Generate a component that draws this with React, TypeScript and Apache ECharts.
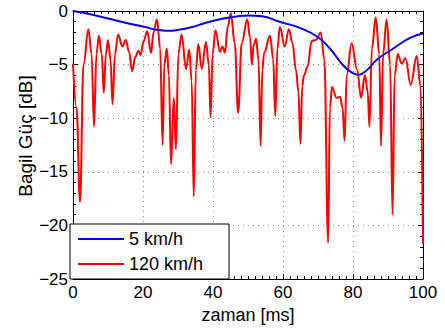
import React, { useEffect, useRef } from "react";
import * as echarts from "echarts";

const xTicks = [0, 20, 40, 60, 80, 100];
const yTicks = [-25, -20, -15, -10, -5, 0];

const blueTime = [0, 5, 10, 15, 20, 25, 28, 31, 34, 38, 43, 47, 50, 54, 59, 65, 70, 73.4, 77, 79.5, 81.5, 84, 86.8, 91.5, 96.3, 100];
const blueGain = [0, -0.3, -0.7, -1.1, -1.45, -1.8, -1.85, -1.7, -1.5, -1.1, -0.7, -0.5, -0.43, -0.5, -1.0, -1.6, -2.45, -3.5, -5.0, -5.7, -5.95, -5.5, -4.55, -3.5, -2.5, -2.1];

const redTime = [
  0, 1.0, 2.0, 3.0, 4.4, 5.3, 6.0, 6.7, 7.4, 8.2, 8.8, 9.4, 10.0, 10.7, 11.3, 12.0, 12.9, 14.1, 15.1, 16.0,
  16.9, 17.8, 18.7, 19.3, 20.2, 21.2, 22.3, 23.0, 24.0, 24.9, 25.6, 26.1, 26.8, 27.4, 28.0, 28.8, 29.4, 30.1, 31.0, 32.3,
  33.2, 33.9, 34.5, 35.1, 35.8, 36.8, 38.0, 38.8, 39.3, 39.9, 40.7, 42.0, 42.7, 43.4, 44.2, 45.1, 46.2, 47.2, 48.2, 49.8,
  50.6, 51.1, 51.6, 52.3, 53.0, 53.6, 54.1, 54.6, 56.3, 57.2, 57.8, 58.4, 59.1, 60.5, 61.7, 62.7, 63.7, 64.4, 65.0, 65.5,
  66.0, 67.0, 68.2, 69.4, 70.8, 71.8, 72.9, 73.4, 74.0, 75.3, 76.3, 77.0, 77.6, 78.2, 79.6, 81.2, 82.3, 83.4, 84.2, 84.7,
  85.4, 86.5, 87.5, 88.0, 88.6, 89.6, 90.6, 91.3, 91.9, 92.8, 93.9, 95.0, 96.5, 98.2, 99.3, 100,
];
const redGain = [
  -4.9, -9, -17.8, -5, -1.7, -4, -10.8, -4, -2.3, -4, -7.6, -4, -2.7, -4.5, -8.7, -4, -2.2, -3.3, -2.7, -3.8,
  -5.6, -4.3, -3.7, -4.1, -2.8, -1.9, -3.9, -2, -0.8, -3.5, -12.5, -5, -3.5, -6, -14.3, -8.1, -12.9, -4, -2.2, -5.4,
  -3.6, -6.5, -17.3, -5.5, -3.1, -5.4, -2.9, -5, -9.9, -4, -1.8, -3.8, -3.3, -3.9, -1.5, -0.2, -3, -9.5, -3, -0.8,
  -2.5, -5.0, -3.2, -2.6, -4.5, -12.6, -5.5, -3.9, -2.3, -4.5, -9.8, -3.5, -1.5, -3.3, -1.7, -3, -5.5, -7.5, -12.4, -7,
  -6.0, -5.2, -2.8, -2.7, -2.0, -4.5, -21.6, -9, -7.1, -8.1, -8.0, -9, -12.1, -6, -3.0, -5.5, -8.1, -6.0, -7.5, -10.8,
  -3.5, -0.6, -4, -12.6, -4, -0.8, -5, -19.0, -6, -4.0, -4.9, -4.4, -6.9, -4.2, -7, -21.7,
];

const FONT = "'Liberation Sans', Arial, sans-serif";

export default function App() {
  const ref = useRef<HTMLDivElement>(null);
  useEffect(() => {
    if (!ref.current) return;
    const chart = echarts.init(ref.current, undefined, { renderer: "svg" });
    const minus = (v: number) => String(v).replace("-", "\u2212");
    const gridLine = { show: true, lineStyle: { color: "#8c8c8c", type: [1, 4] as any, width: 1 } };
    const baseX = {
      type: "value" as const,
      min: xTicks[0],
      max: xTicks[xTicks.length - 1],
      interval: 20,
      axisLine: { show: true, onZero: false, lineStyle: { color: "#000", width: 1 } },
      axisTick: { show: true, inside: true, length: 5, lineStyle: { color: "#000" } },
      minorTick: { show: true, splitNumber: 10, length: 3, lineStyle: { color: "#000" } },
    };
    const baseY = {
      type: "value" as const,
      min: yTicks[0],
      max: yTicks[yTicks.length - 1],
      interval: 5,
      axisLine: { show: true, onZero: false, lineStyle: { color: "#000", width: 1 } },
      axisTick: { show: true, inside: true, length: 5, lineStyle: { color: "#000" } },
      minorTick: { show: true, splitNumber: 5, length: 3, lineStyle: { color: "#000" } },
    };
    chart.setOption({
      animation: false,
      backgroundColor: "#fff",
      textStyle: { fontFamily: FONT },
      grid: { left: 73, right: 22, top: 11, bottom: 49, containLabel: false },
      xAxis: [
        {
          ...baseX,
          position: "bottom",
          splitLine: gridLine,
          axisLabel: { color: "#000", fontSize: 17, margin: 5, fontFamily: FONT },
          name: "zaman [ms]",
          nameLocation: "middle",
          nameGap: 27,
          nameTextStyle: { color: "#000", fontSize: 18, fontFamily: FONT },
        },
        { ...baseX, position: "top", splitLine: { show: false }, axisLabel: { show: false } },
      ],
      yAxis: [
        {
          ...baseY,
          position: "left",
          splitLine: gridLine,
          axisLabel: { color: "#000", fontSize: 17, margin: 5, fontFamily: FONT, formatter: minus },
        },
        { ...baseY, position: "right", splitLine: { show: false }, axisLabel: { show: false } },
      ],
      graphic: [
        {
          type: "text",
          x: 25,
          y: 136,
          rotation: Math.PI / 2,
          style: {
            text: "Bagil Güç [dB]",
            fill: "#000",
            font: `19px ${FONT}`,
            textAlign: "center",
            textVerticalAlign: "middle",
          },
        },
      ],
      legend: {
        show: true,
        orient: "vertical",
        left: 70,
        top: 224,
        backgroundColor: "#fff",
        borderColor: "#000",
        borderWidth: 1,
        borderRadius: 0,
        padding: [6, 26, 6, 8],
        icon: "rect",
        itemWidth: 46,
        itemHeight: 2,
        itemGap: 7,
        textStyle: { color: "#000", fontSize: 18, fontFamily: FONT },
        data: ["5 km/h", "120 km/h"],
      },
      series: [
        {
          name: "120 km/h",
          type: "line",
          data: redTime.map((t, i) => [t, redGain[i]]),
          symbol: "none",
          smooth: 0.4,
          smoothMonotone: "x",
          lineStyle: { color: "#ff0000", width: 2 },
          itemStyle: { color: "#ff0000" },
          z: 3,
        },
        {
          name: "5 km/h",
          type: "line",
          data: blueTime.map((t, i) => [t, blueGain[i]]),
          symbol: "none",
          smooth: true,
          lineStyle: { color: "#0000ff", width: 2 },
          itemStyle: { color: "#0000ff" },
          z: 4,
        },
      ],
    });
    return () => chart.dispose();
  }, []);
  return (
    <div
      ref={ref}
      style={{ position: "fixed", left: 0, top: 0, width: 445, height: 329 }}
    />
  );
}
